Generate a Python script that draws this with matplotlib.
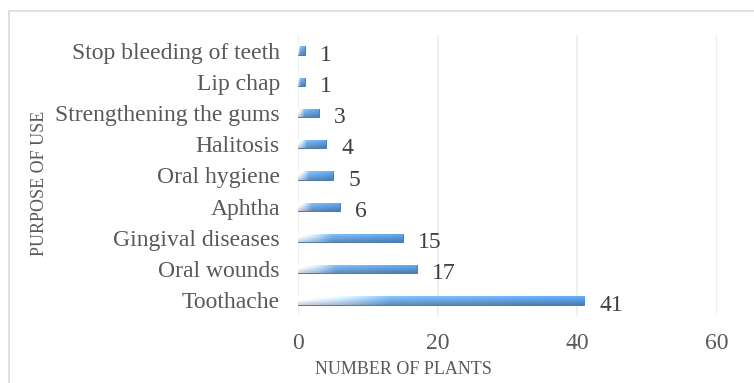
import numpy as np
import matplotlib
matplotlib.use('Agg')
from matplotlib import pyplot as plt
from matplotlib.colors import LinearSegmentedColormap
from matplotlib.patches import Rectangle

categories = ['Toothache', 'Oral wounds', 'Gingival diseases', 'Aphtha', 'Oral hygiene',
              'Halitosis', 'Strengthening the gums', 'Lip chap', 'Stop bleeding of teeth']
values = [41, 17, 15, 6, 5, 4, 3, 1, 1]
x_ticks = [0, 20, 40, 60]

plt.rcParams['font.family'] = ['Liberation Serif', 'DejaVu Serif']
txt = '#595959'

fig = plt.figure(figsize=(7.54, 3.83), dpi=100)
ax = fig.add_axes([298 / 754, 1 - 316 / 383, (717 - 298) / 754, (316 - 35) / 383])

# outer chart frame
fig.patches.append(Rectangle((9 / 754, -0.05), 1.2, 1 - 11 / 383 + 0.05, transform=fig.transFigure,
                             fill=False, edgecolor='#d9d9d9', linewidth=1.2))

ax.set_xticks(x_ticks)
ax.set_yticks(range(len(categories)))
ax.set_yticklabels(categories, fontsize=17, color=txt)
ax.tick_params(axis='x', labelsize=17, labelcolor=txt, length=0, pad=12)
ax.tick_params(axis='y', length=0, pad=13)
ax.grid(axis='x', color='#ececec', linewidth=1.2)
ax.set_axisbelow(True)
for s in ax.spines.values():
    s.set_visible(False)

# gradient: pale at the left end, solid blue after
cmap = LinearSegmentedColormap.from_list('bar', [(0, '#f4f8fd'), (0.18, '#b5d0ee'),
                                                 (0.32, '#6fa6dc'), (1, '#5592d2')])
h = 0.27
bars = ax.barh(range(len(categories)), values, height=h, color='#5b9bd5',
               edgecolor='#3a70a8', linewidth=0.6, zorder=2)
for i, (b, v) in enumerate(zip(bars, values)):
    grad = np.linspace(0, 1, 256)
    # vertical shading: lighter top, darker bottom edge
    yy = np.linspace(0, 1, 16)
    vert = 0.85 + 0.35 * yy
    img = cmap(np.outer(np.ones(16), grad))
    img[..., :3] = np.clip(img[..., :3] * vert[:, None, None], 0, 1)
    im = ax.imshow(img, extent=[0, v, i - h / 2, i + h / 2], aspect='auto', origin='lower',
                   zorder=3, interpolation='bilinear')
    im.set_clip_path(b)
    ax.text(v + 2.2, i - 0.15, str(v), fontsize=17, color='#404040', va='center', ha='left')

ax.set_xlim(0, 60)
ax.set_ylim(-0.5, len(categories) - 0.5)

fig.text(403 / 754, 1 - 370 / 383, 'NUMBER OF PLANTS', fontsize=13, color=txt,
         ha='center', va='center')
fig.text(40 / 754, 1 - 183 / 383, 'PURPOSE OF USE', fontsize=13, color=txt,
         ha='center', va='center', rotation=90)

fig.savefig('out.png', dpi=100)
